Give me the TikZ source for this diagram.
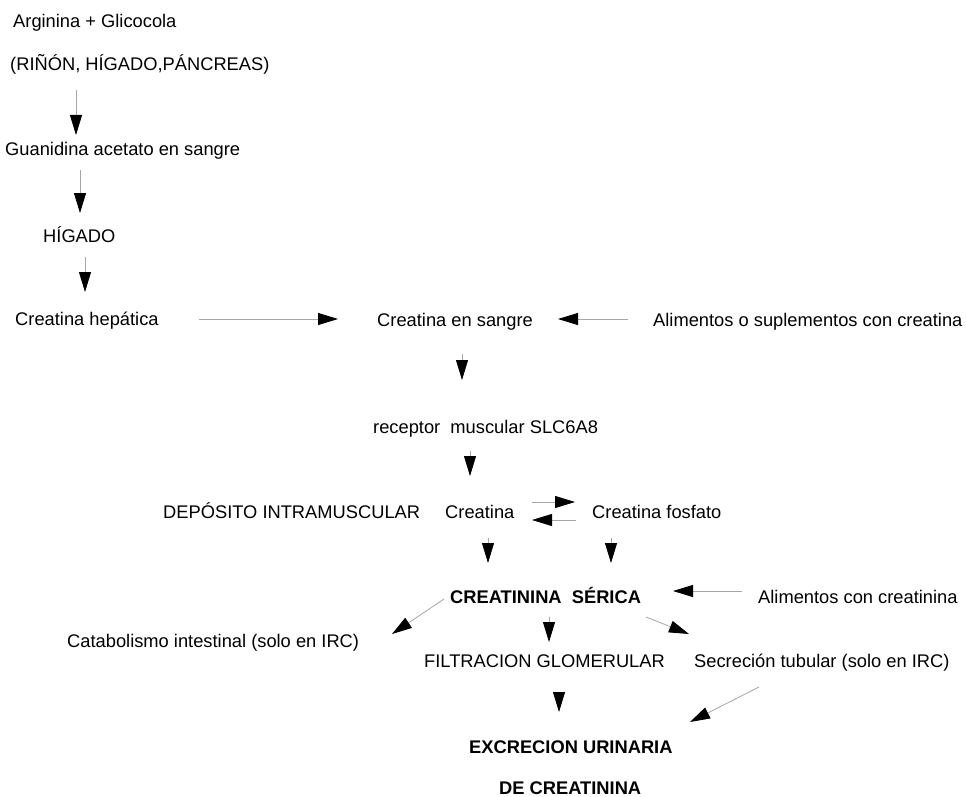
\documentclass[tikz,border=0pt]{standalone}
\usepackage{fontspec}
\setmainfont{Liberation Sans}
\usetikzlibrary{arrows.meta}
\begin{document}
\begin{tikzpicture}[x=1pt,y=-1pt,
  lbl/.style={anchor=base west,inner sep=0pt,font=\fontsize{18.3}{22}\selectfont},
  blbl/.style={anchor=base west,inner sep=0pt,font=\fontsize{18.3}{22}\selectfont\bfseries},
  arr/.style={draw=black!35,line width=0.8pt,-{Triangle[length=20pt,width=12pt,color=black]}},
  headonly/.style={draw=none,-{Triangle[length=20pt,width=12pt,color=black]}}]
\useasboundingbox[fill=white] (0,0) rectangle (966,797);

% text nodes
\node[lbl] (arg)  at (13,28)  {Arginina + Glicocola};
\node[lbl] (org)  at (10,71)  {(RIÑÓN, HÍGADO,PÁNCREAS)};
\node[lbl] (gua)  at (5,156)  {Guanidina acetato en sangre};
\node[lbl] (hig)  at (43,242) {HÍGADO};
\node[lbl] (chep) at (15,325) {Creatina hepática};
\node[lbl] (csan) at (377,326) {Creatina en sangre};
\node[lbl] (alim) at (653,326) {Alimentos o suplementos con creatina};
\node[lbl] (rec)  at (373,433) {receptor\ \ muscular SLC6A8};
\node[lbl] (dep)  at (163,518) {DEPÓSITO INTRAMUSCULAR};
\node[lbl] (cre)  at (445,518) {Creatina};
\node[lbl] (cfos) at (592,518) {Creatina fosfato};
\node[blbl] (cser) at (450,603) {CREATININA\ \ SÉRICA};
\node[lbl] (acre) at (758,603) {Alimentos con creatinina};
\node[lbl] (cat)  at (67,647) {Catabolismo intestinal (solo en IRC)};
\node[lbl] (fil)  at (424,667) {FILTRACION GLOMERULAR};
\node[lbl] (sec)  at (694,667) {Secreción tubular (solo en IRC)};
\node[blbl] (exc1) at (469,753) {EXCRECION URINARIA};
\node[blbl] (exc2) at (499,794) {DE CREATININA};

% connector end points
\coordinate (a1s) at (76,90);   \coordinate (a1e) at (76,135);
\coordinate (a2s) at (80,170);  \coordinate (a2e) at (80,213);
\coordinate (a3s) at (85,257);  \coordinate (a3e) at (85,292);
\coordinate (h1s) at (199,319); \coordinate (h1e) at (338,319);
\coordinate (h2s) at (628,319); \coordinate (h2e) at (558,319);
\coordinate (d1s) at (462,354); \coordinate (d1e) at (462,380);
\coordinate (d2s) at (470,451); \coordinate (d2e) at (470,476);
\coordinate (e1s) at (532,502); \coordinate (e1e) at (575,502);
\coordinate (e2s) at (576,520); \coordinate (e2e) at (532,520);
\coordinate (d3s) at (488,538); \coordinate (d3e) at (488,563);
\coordinate (d4s) at (611,538); \coordinate (d4e) at (611,563);
\coordinate (h3s) at (742,591); \coordinate (h3e) at (673,591);
\coordinate (g1s) at (444,599); \coordinate (g1e) at (392,634);
\coordinate (d5s) at (549,617); \coordinate (d5e) at (549,642);
\coordinate (g2s) at (646,617); \coordinate (g2e) at (689,634);
\coordinate (d6s) at (559,692); \coordinate (d6e) at (559,712);
\coordinate (g3s) at (759,687); \coordinate (g3e) at (690,722);

% connectors
\draw[arr] (a1s) -- (a1e);
\draw[arr] (a2s) -- (a2e);
\draw[arr] (a3s) -- (a3e);
\draw[arr] (h1s) -- (h1e);
\draw[arr] (h2s) -- (h2e);
\draw[arr] (d1s) -- (d1e);
\draw[arr] (d2s) -- (d2e);
\draw[arr] (e1s) -- (e1e);
\draw[arr] (e2s) -- (e2e);
\draw[arr] (d3s) -- (d3e);
\draw[arr] (d4s) -- (d4e);
\draw[arr] (h3s) -- (h3e);
\draw[arr] (g1s) -- (g1e);
\draw[arr] (d5s) -- (d5e);
\draw[arr] (g2s) -- (g2e);
\draw[arr] (d6s) -- (d6e);
\draw[arr] (g3s) -- (g3e);
\end{tikzpicture}
\end{document}
